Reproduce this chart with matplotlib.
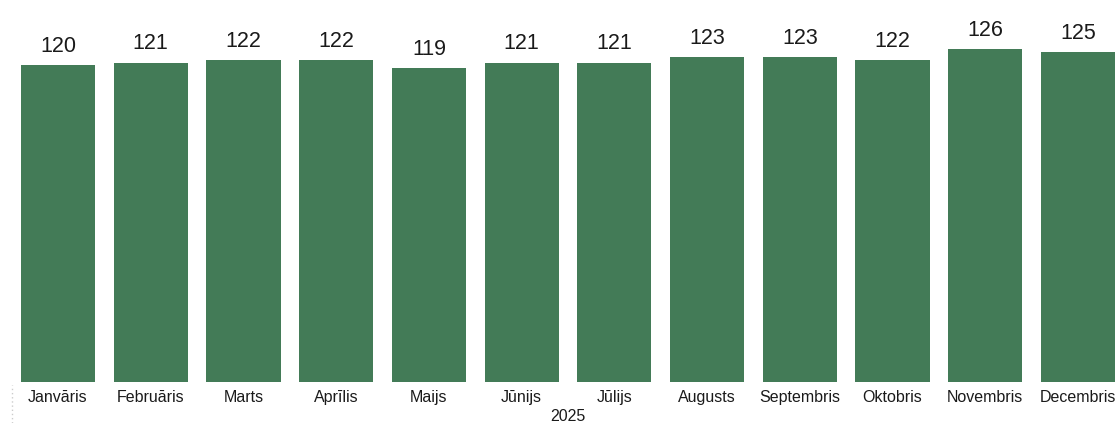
import matplotlib.pyplot as plt
from matplotlib.lines import Line2D

plt.rcParams['font.family'] = ['Liberation Sans', 'DejaVu Sans']

months = ["Janvāris", "Februāris", "Marts", "Aprīlis", "Maijs", "Jūnijs",
          "Jūlijs", "Augusts", "Septembris", "Oktobris", "Novembris", "Decembris"]
values = [120, 121, 122, 122, 119, 121, 121, 123, 123, 122, 126, 125]
year = "2025"

fig = plt.figure(figsize=(11.2, 4.23), dpi=100)
ax = fig.add_axes([0.0, 41 / 423, 1.0, 382 / 423])

x = list(range(len(months)))
bars = ax.bar(x, values, width=0.8, color="#437B57")

for b, v in zip(bars, values):
    ax.annotate(str(v), (b.get_x() + b.get_width() / 2, v),
                xytext=(0, 6), textcoords="offset points",
                ha="center", va="bottom", fontsize=15.5, color="#1a1a1a")

ax.set_xlim(-0.6255, 11.453)
ax.set_ylim(0, 144.7)
ax.set_xticks(x)
ax.set_xticklabels(months, fontsize=11.5, color="#1a1a1a")
ax.tick_params(axis="x", length=0, pad=6)
ax.set_yticks([])
for s in ax.spines.values():
    s.set_visible(False)

# year label under the month labels
fig.text(568 / 1120, 1 - 416 / 423, year, ha="center", va="center",
         fontsize=11.5, color="#1a1a1a")

# faint dotted line at the left edge
fig.add_artist(Line2D([12 / 1120, 12 / 1120], [0, 38 / 423],
                      color="#cccccc", linestyle=(0, (1, 2)), linewidth=1))

fig.savefig("out.png", dpi=100)
